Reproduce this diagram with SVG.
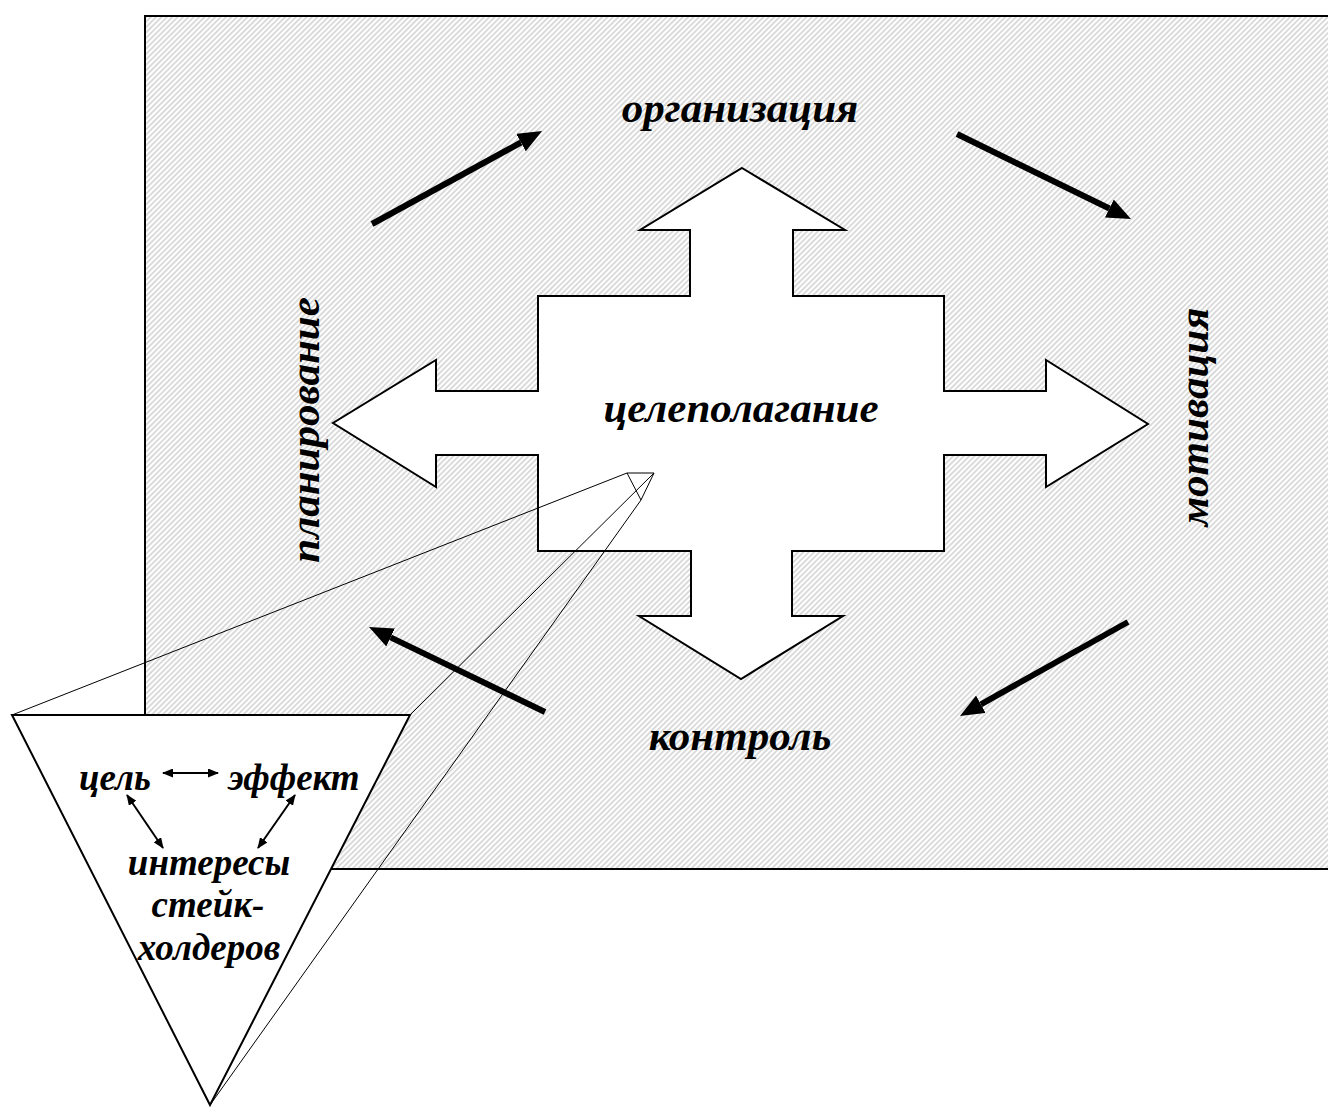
<svg xmlns="http://www.w3.org/2000/svg" width="1328" height="1111" viewBox="0 0 1328 1111">
  <defs>
    <!-- diagonal hatching for the background field -->
    <pattern id="hatch" patternUnits="userSpaceOnUse" width="3.8" height="3.8" patternTransform="rotate(45)">
      <rect width="3.8" height="3.8" fill="#ffffff"/>
      <line x1="0.9" y1="0" x2="0.9" y2="3.8" stroke="#cdcdcd" stroke-width="1.4"/>
    </pattern>
    <!-- heavy cycle arrowhead -->
    <marker id="headBig" markerUnits="userSpaceOnUse" markerWidth="24" markerHeight="20" viewBox="0 0 24 20" refX="0" refY="10" orient="auto">
      <path d="M0,0 L24,10 L0,20 Z" fill="#000"/>
    </marker>
    <!-- small arrowhead for the inner triangle links -->
    <marker id="headSmall" markerUnits="userSpaceOnUse" markerWidth="11" markerHeight="9" viewBox="0 0 11 9" refX="10" refY="4.5" orient="auto-start-reverse">
      <path d="M0,0 L11,4.5 L0,9 Z" fill="#000"/>
    </marker>
  </defs>
  <style>
    .lbl { font-family: "Liberation Serif", "Times New Roman", serif; font-weight: bold; font-style: italic; fill: #000; text-anchor: middle; }
    .big { font-size: 43px; }
    .small { font-size: 37px; }
    .outline { fill: #fff; stroke: #000; stroke-width: 2; stroke-linejoin: miter; }
    .cycle { stroke: #000; stroke-width: 6; fill: none; marker-end: url(#headBig); }
    .link { stroke: #000; stroke-width: 2; fill: none; marker-start: url(#headSmall); marker-end: url(#headSmall); }
    .thin { stroke: #000; stroke-width: 1; fill: none; }
  </style>

  <rect width="1328" height="1111" fill="#fff"/>

  <!-- hatched management field -->
  <g id="field">
    <rect x="145" y="16" width="1200" height="853" fill="url(#hatch)" stroke="#000" stroke-width="2"/>
  </g>

  <!-- central four-way arrow -->
  <g id="goal-setting">
    <polygon class="outline" points="742,168 845,230 793,230 793,296 944,296 944,391 1046,391 1046,360 1148,424 1046,487 1046,455 944,455 944,551 792,551 792,616 843,616 741,679 639,616 691,616 691,551 538,551 538,455 436,455 436,487 333,423 436,360 436,391 538,391 538,296 690,296 690,230 640,230"/>
    <text class="lbl big" x="741" y="422">целеполагание</text>
  </g>

  <g id="organization">
    <text class="lbl big" x="740" y="122">организация</text>
  </g>
  <g id="motivation">
    <text class="lbl big" transform="translate(1208,417) rotate(-90)">мотивация</text>
  </g>
  <g id="control">
    <text class="lbl big" x="740" y="750">контроль</text>
  </g>
  <g id="planning">
    <text class="lbl big" transform="translate(319,430) rotate(-90)">планирование</text>
  </g>

  <!-- cycle arrows between the functions -->
  <g id="connectors">
    <line class="cycle" x1="372" y1="224" x2="521" y2="142.5"/>
    <line class="cycle" x1="957" y1="134" x2="1109.4" y2="208.5"/>
    <line class="cycle" x1="1128" y1="622" x2="980.9" y2="704.3"/>
    <line class="cycle" x1="545" y1="712" x2="390.6" y2="637.4"/>
    <!-- magnifier cone from the centre to the detail triangle -->
    <polygon class="thin" points="627,473 654,473 641,500"/>
    <line class="thin" x1="627" y1="473" x2="12" y2="715"/>
    <line class="thin" x1="654" y1="473" x2="410" y2="715"/>
    <line class="thin" x1="641" y1="500" x2="210" y2="1105"/>
  </g>

  <!-- detail: goal / effect / stakeholder interests -->
  <g id="detail">
    <polygon class="outline" points="12,715 410,715 210,1105"/>
    <text class="lbl small" x="115" y="790">цель</text>
    <text class="lbl small" x="294" y="790">эффект</text>
    <text class="lbl small" x="209" y="875">интересы</text>
    <text class="lbl small" x="208" y="917">стейк-</text>
    <text class="lbl small" x="209" y="960">холдеров</text>
    <line class="link" x1="163" y1="773" x2="218" y2="773"/>
    <line class="link" x1="127" y1="795" x2="163" y2="848"/>
    <line class="link" x1="295" y1="795" x2="258" y2="848"/>
  </g>
</svg>
